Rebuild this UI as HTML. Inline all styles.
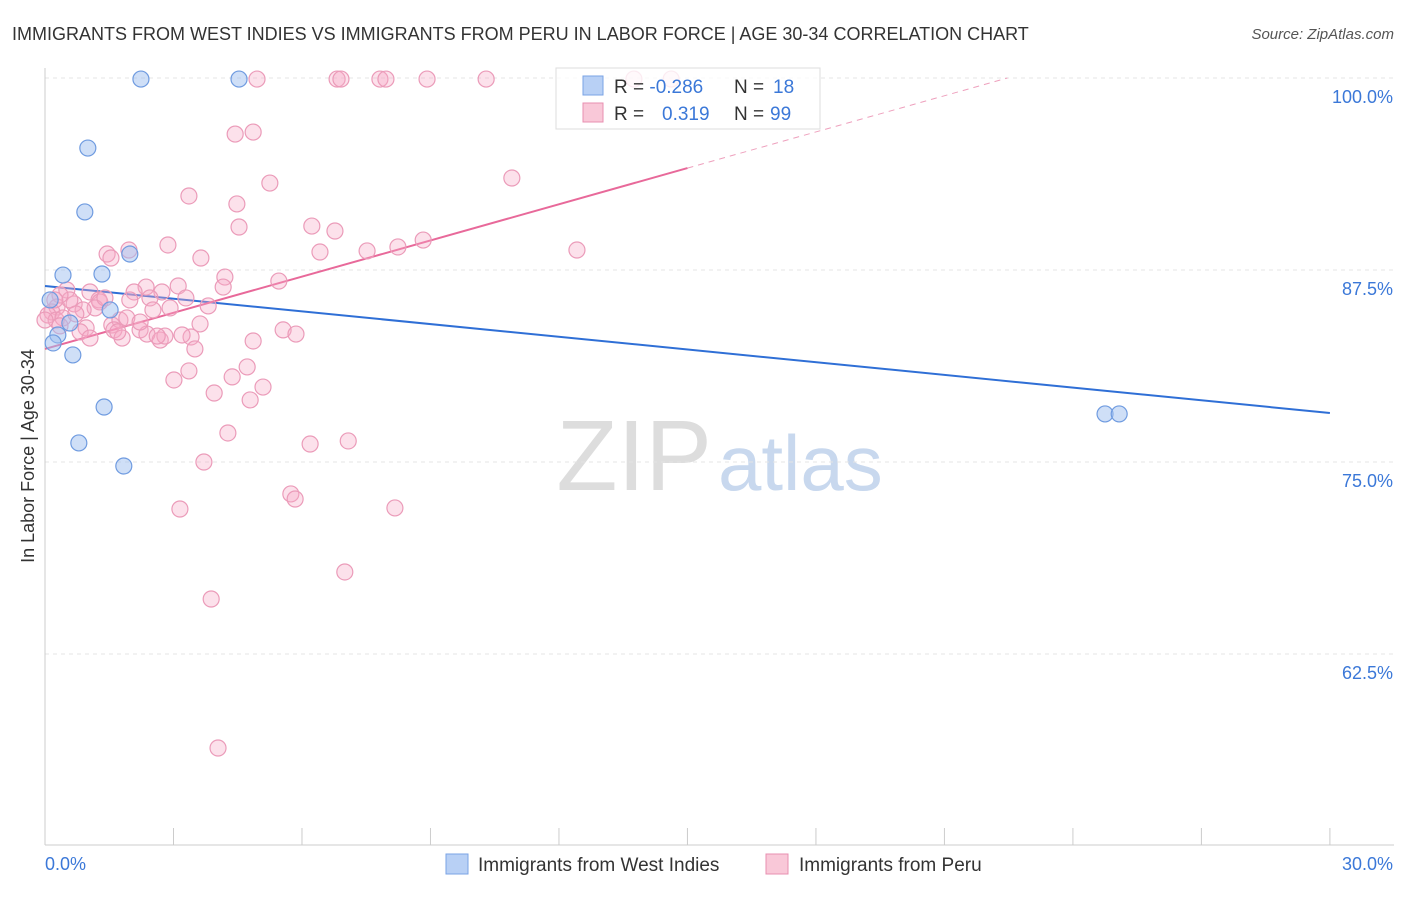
<!DOCTYPE html>
<html><head><meta charset="utf-8"><style>
body{margin:0;background:#fff;font-family:"Liberation Sans",sans-serif;}
svg text{font-family:"Liberation Sans",sans-serif;}
</style></head><body>
<svg id="chart" width="1406" height="892">
<text x="12" y="40" font-size="18" fill="#333">IMMIGRANTS FROM WEST INDIES VS IMMIGRANTS FROM PERU IN LABOR FORCE | AGE 30-34 CORRELATION CHART</text>
<text x="1394" y="39" font-size="15" fill="#555" text-anchor="end" font-style="italic">Source: ZipAtlas.com</text>
<text x="712" y="490" font-size="100" fill="#ddd" text-anchor="end" font-family="Liberation Serif">ZIP</text>
<text x="718" y="490" font-size="78" fill="#c8d8ee">atlas</text>
<g id="grid"></g><g id="axes"></g><g id="trends"></g><g id="points"></g>
<text transform="translate(34,456) rotate(-90)" font-size="18" fill="#333" text-anchor="middle">In Labor Force | Age 30-34</text>
<g>
<rect x="556" y="68" width="264" height="61" fill="#fff" fill-opacity="0.8" stroke="#ddd"/>
<rect x="583" y="76" width="20" height="19" fill="#b8d0f5" stroke="#7aa3e5"/>
<rect x="583" y="103" width="20" height="19" fill="#f9c8d8" stroke="#e88fb0"/>
<text x="614" y="93" font-size="19" fill="#333">R = <tspan fill="#3b78d8">-0.286</tspan><tspan x="734">N = </tspan><tspan fill="#3b78d8" x="773">18</tspan></text>
<text x="614" y="120" font-size="19" fill="#333">R = <tspan fill="#3b78d8" x="662">0.319</tspan><tspan x="734">N = </tspan><tspan fill="#3b78d8" x="770">99</tspan></text>
</g>
<g>
<rect x="446" y="854" width="22" height="20" fill="#b8d0f5" stroke="#7aa3e5"/>
<text x="478" y="871" font-size="19" fill="#333">Immigrants from West Indies</text>
<rect x="766" y="854" width="22" height="20" fill="#f9c8d8" stroke="#e88fb0"/>
<text x="799" y="871" font-size="19" fill="#333">Immigrants from Peru</text>
</g>
</svg>
<script>
const blueX=[2.24,4.53,1.00,0.93,0.42,1.33,1.98,1.52,0.12,0.30,0.58,0.19,0.65,1.38,0.79,1.84,24.75,25.08];
const blueY=[99.93,99.93,95.44,91.28,87.17,87.24,88.54,84.90,85.55,83.27,84.05,82.75,81.97,78.58,76.24,74.74,78.13,78.13];
const pinkX=[4.95,6.82,6.91,7.82,7.96,8.92,10.30,13.75,14.62,4.44,4.86,5.25,3.36,4.48,4.53,6.23,6.77,10.90,12.42,8.83,8.24,7.52,6.42,2.87,3.64,1.45,1.96,1.54,4.20,5.46,3.11,2.36,2.73,2.08,3.29,3.81,4.16,1.05,0.51,1.26,0.68,0.28,0.16,0.07,0.26,0.42,0.96,0.82,1.56,1.75,1.91,2.22,2.45,2.52,2.92,3.62,1.61,1.80,2.38,2.69,2.80,3.41,3.50,4.86,5.56,5.86,4.72,3.36,4.37,3.01,5.09,3.95,4.79,4.27,6.19,7.08,3.71,5.74,5.84,3.15,8.17,7.00,3.88,4.04,1.28,1.17,1.40,0.58,0.35,0.89,1.98,0.00,0.23,0.72,2.22,2.62,3.20,1.05,1.70,0.35];
const pinkY=[99.93,99.93,99.93,99.93,99.93,99.93,99.93,99.93,99.93,96.35,96.48,93.16,92.32,91.80,90.30,90.36,90.04,93.49,88.80,89.45,89.00,88.74,88.67,89.13,88.28,88.54,88.80,88.28,87.04,86.78,86.46,86.39,86.07,86.07,85.68,85.16,86.39,86.07,86.20,85.55,85.29,85.09,84.77,84.57,84.24,84.38,83.73,83.47,83.92,84.24,84.38,83.60,85.68,84.90,85.03,83.99,83.60,83.07,83.33,82.94,83.20,83.14,82.36,82.88,83.60,83.33,81.19,80.93,80.54,80.34,79.88,79.49,79.04,76.89,76.17,76.37,75.00,72.92,72.59,71.94,72.01,67.84,66.08,56.38,85.42,85.03,85.68,85.55,85.87,84.90,85.55,84.24,85.55,84.64,84.11,83.20,83.27,83.07,83.47,83.86];
const blueTrend=[86.46,78.19];
const pinkTrend=[82.36,0.785];
const yTicks=[100,87.5,75,62.5];
const yTickLabels=["100.0%","87.5%","75.0%","62.5%"];
const NS="http://www.w3.org/2000/svg";
const sx=v=>45+v*42.83, sy=v=>78+(100-v)*15.36;
function mk(tag,attrs,parent){const e=document.createElementNS(NS,tag);for(const k in attrs)e.setAttribute(k,attrs[k]);document.getElementById(parent).appendChild(e);return e;}
yTicks.forEach((t,i)=>{
 const l=mk('line',{x1:45,x2:1394,y1:sy(t),y2:sy(t),stroke:'#e4e4e4','stroke-dasharray':'4,4'},'grid');
 
 
 const tx=mk('text',{x:1393,y:sy(t)+25,'font-size':18,fill:'#3b78d8','text-anchor':'end'},'grid');
 tx.textContent=yTickLabels[i];
 
 
});
mk('line',{x1:45,x2:45,y1:68,y2:845,stroke:'#ccc'},'axes');
mk('line',{x1:45,x2:1394,y1:845,y2:845,stroke:'#ccc'},'axes');
for(let i=0;i<=10;i++){const x=sx(i*3);const t=mk('line',{x1:x,x2:x,y1:828,y2:845,stroke:'#ccc'},'axes');
 
 }
let a=mk('text',{x:45,y:870,'font-size':18,fill:'#3b78d8'},'axes');a.textContent='0.0%';


a=mk('text',{x:1393,y:870,'font-size':18,fill:'#3b78d8','text-anchor':'end'},'axes');a.textContent='30.0%';


pinkX.forEach((v,i)=>{const c=mk('circle',{cx:sx(v),cy:sy(pinkY[i]),r:8,fill:'rgba(245,170,198,0.35)',stroke:'#eb9bb9','stroke-width':1.2},'points');
 
 });
blueX.forEach((v,i)=>{const c=mk('circle',{cx:sx(v),cy:sy(blueY[i]),r:8,fill:'rgba(160,192,240,0.5)',stroke:'#6f9be0','stroke-width':1.2},'points');
 
 });
let bl=mk('line',{x1:sx(0),y1:sy(blueTrend[0]),x2:sx(30),y2:sy(blueTrend[1]),stroke:'#2f6fd6','stroke-width':2},'trends');


const pEnd=15, pTop=(100-pinkTrend[0])/pinkTrend[1];
let pl=mk('line',{x1:sx(0),y1:sy(pinkTrend[0]),x2:sx(pEnd),y2:sy(pinkTrend[0]+pinkTrend[1]*pEnd),stroke:'#e8699a','stroke-width':2},'trends');


let pd=mk('line',{x1:sx(pEnd),y1:sy(pinkTrend[0]+pinkTrend[1]*pEnd),x2:sx(pTop),y2:sy(100),stroke:'#eea0bd','stroke-width':1,'stroke-dasharray':'6,5'},'trends');


</script>
</body></html>
